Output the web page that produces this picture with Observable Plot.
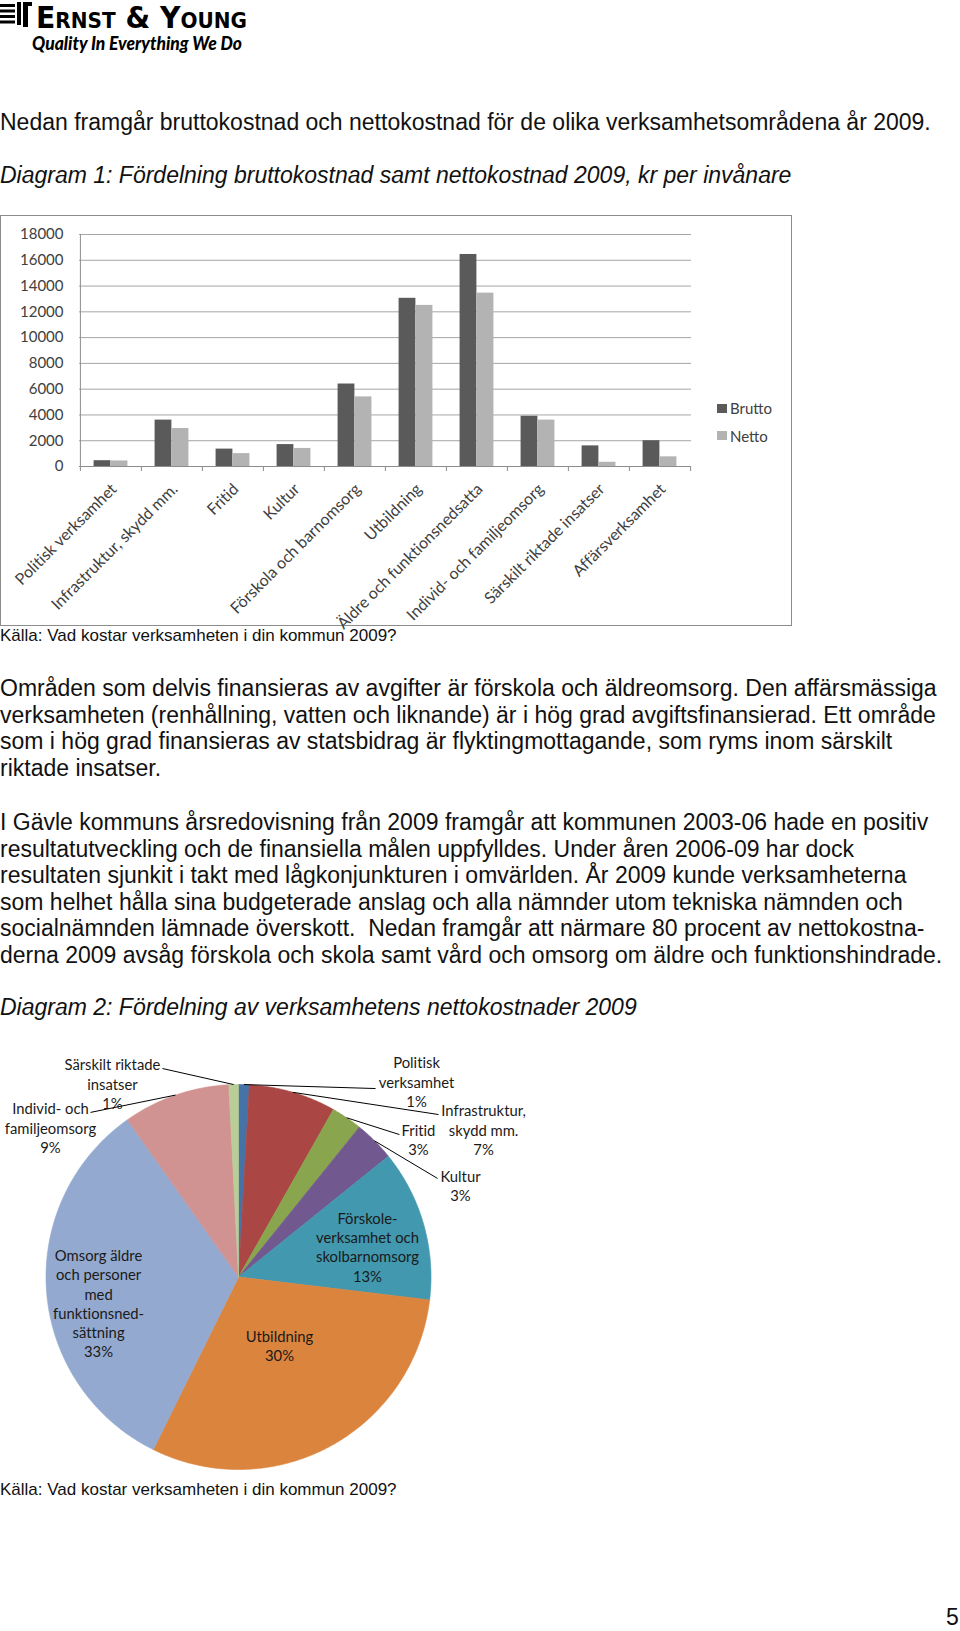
<!DOCTYPE html>
<html><head><meta charset="utf-8">
<script src="https://cdn.jsdelivr.net/npm/d3@7"></script>
<script src="https://cdn.jsdelivr.net/npm/@observablehq/plot@0.6"></script>
<style>
html,body{margin:0;padding:0;background:#fff;}
#page{position:relative;width:960px;height:1631px;overflow:hidden;font-family:"Liberation Sans",Arial,sans-serif;color:#111;}
.t{position:absolute;left:0;white-space:pre;font-size:23px;line-height:26.5px;}
.i{font-style:italic;}
.src{position:absolute;left:0;font-size:17px;line-height:20px;white-space:pre;}
#bar{position:absolute;left:0;top:215px;width:790px;height:409px;border:1px solid #8c8c8c;}
#bar svg{position:absolute;left:0;top:0;}
.leg{position:absolute;font-family:Lato,sans-serif;font-size:15px;color:#404040;line-height:18px;}
.sw{position:absolute;width:10px;height:9px;}
#pie{position:absolute;left:0;top:1040px;}
svg text{font-variant-ligatures:none;}
</style></head><body><div id="page">

<svg width="440" height="64" style="position:absolute;left:0;top:0">
  <rect x="0" y="4" width="15" height="3" fill="#000"/>
  <rect x="0" y="9.5" width="15" height="3" fill="#000"/>
  <rect x="0" y="15" width="15" height="3" fill="#000"/>
  <rect x="0" y="20.5" width="15" height="3" fill="#000"/>
  <rect x="17" y="2" width="4" height="23" fill="#000"/>
  <rect x="23" y="2" width="5" height="25" fill="#000"/>
  <rect x="28" y="2" width="4" height="4" fill="#000"/>
  <text x="36" y="28" textLength="211" lengthAdjust="spacingAndGlyphs" font-family="DejaVu Sans" font-weight="bold" font-size="31" style="font-variant:small-caps" fill="#000">Ernst &amp; Young</text>
  <text x="32" y="50" textLength="210" lengthAdjust="spacingAndGlyphs" font-family="Lato" font-weight="900" font-style="italic" font-size="18" fill="#000">Quality In Everything We Do</text>
</svg>

<div class="t" style="top:109px">Nedan framgår bruttokostnad och nettokostnad för de olika verksamhetsområdena år 2009.</div>
<div class="t i" style="top:162px">Diagram 1: Fördelning bruttokostnad samt nettokostnad 2009, kr per invånare</div>

<div id="bar">
  <div class="sw" style="left:716px;top:188px;background:#5a5a5a"></div>
  <div class="leg" style="left:729px;top:183px">Brutto</div>
  <div class="sw" style="left:716px;top:215px;background:#b3b3b3"></div>
  <div class="leg" style="left:729px;top:211px">Netto</div>
</div>

<div class="src" style="top:626px">Källa: Vad kostar verksamheten i din kommun 2009?</div>

<div class="t" style="top:675px">Områden som delvis finansieras av avgifter är förskola och äldreomsorg. Den affärsmässiga
verksamheten (renhållning, vatten och liknande) är i hög grad avgiftsfinansierad. Ett område
som i hög grad finansieras av statsbidrag är flyktingmottagande, som ryms inom särskilt
riktade insatser.</div>

<div class="t" style="top:809px">I Gävle kommuns årsredovisning från 2009 framgår att kommunen 2003-06 hade en positiv
resultatutveckling och de finansiella målen uppfylldes. Under åren 2006-09 har dock
resultaten sjunkit i takt med lågkonjunkturen i omvärlden. År 2009 kunde verksamheterna
som helhet hålla sina budgeterade anslag och alla nämnder utom tekniska nämnden och
socialnämnden lämnade överskott.  Nedan framgår att närmare 80 procent av nettokostna-
derna 2009 avsåg förskola och skola samt vård och omsorg om äldre och funktionshindrade.</div>

<div class="t i" style="top:994px">Diagram 2: Fördelning av verksamhetens nettokostnader 2009</div>

<div id="pie"></div>

<div class="src" style="top:1480px">Källa: Vad kostar verksamheten i din kommun 2009?</div>
<div class="t" style="top:1604px;left:946px">5</div>

</div>
<script>
// ---------- Diagram 1 data ----------
const categories = ["Politisk verksamhet","Infrastruktur, skydd mm.","Fritid","Kultur","Förskola och barnomsorg","Utbildning","Äldre och funktionsnedsatta","Individ- och familjeomsorg","Särskilt riktade insatser","Affärsverksamhet"];
const brutto = [450, 3600, 1350, 1700, 6400, 13050, 16450, 3900, 1600, 2000];
const netto  = [430, 2950, 1000, 1400, 5400, 12500, 13450, 3600, 330, 750];
const seriesNames = ["Brutto", "Netto"];
const seriesColors = ["#5a5a5a", "#b3b3b3"];
const yTicks = [0, 2000, 4000, 6000, 8000, 10000, 12000, 14000, 16000, 18000];

// ---------- Diagram 2 data ----------
const pieNames = ["Politisk\nverksamhet","Infrastruktur,\nskydd mm.","Fritid","Kultur","Förskole-\nverksamhet och\nskolbarnomsorg","Utbildning","Omsorg äldre\noch personer\nmed\nfunktionsned-\nsättning","Individ- och\nfamiljeomsorg","Särskilt riktade\ninsatser"];
const pieValues = [0.9, 7.3, 2.6, 3.4, 12.7, 30.4, 32.9, 9.0, 0.8];
const pieColors = ["#4572A7","#AA4643","#89A54E","#71588F","#4198AF","#DB843D","#93A9CF","#D19392","#B9CD96"];
// label layout (pie-radius units), and leader-line end points (null = label inside)
const labelPos = [[0.925,1.016],[1.273,0.766],[0.935,0.717],[1.153,0.478],[0.670,0.158],[0.213,-0.356],[-0.727,-0.135],[-0.977,0.777],[-0.655,1.005]];
const leaderEnd = [[0.712,0.979],[1.039,0.844],[0.836,0.740],[1.034,0.512],null,null,null,[-0.769,0.855],[-0.395,1.083]];

// ---------- Bar chart ----------
const rows = categories.flatMap((c, i) => [
  {category: c, series: seriesNames[0], value: brutto[i]},
  {category: c, series: seriesNames[1], value: netto[i]}
]);
const W = 790, H = 409, mL = 78, mR = 100, mT = 18, mB = 159;
const step = (W - mL - mR) / categories.length;
const barW = step * 0.278;
const outer = (step - 2 * barW) / 2;
const barPlot = Plot.plot({
  width: W, height: H, marginLeft: mL, marginRight: mR, marginTop: mT, marginBottom: mB,
  style: {fontFamily: "Lato, sans-serif", fontSize: "15px", color: "#404040", background: "transparent", overflow: "visible"},
  x: {type: "band", domain: categories, padding: 0, axis: null},
  y: {domain: [0, 18000], axis: null},
  color: {domain: seriesNames, range: seriesColors},
  marks: [
    Plot.ruleY(yTicks.filter(d => d > 0), {stroke: "#a6a6a6", strokeWidth: 1}),
    Plot.ruleX([categories[0]], {dx: -step / 2, stroke: "#8c8c8c"}),
    Plot.barY(rows.filter(d => d.series === seriesNames[0]), {x: "category", y: "value", fill: "series", insetLeft: outer, insetRight: outer + barW}),
    Plot.barY(rows.filter(d => d.series === seriesNames[1]), {x: "category", y: "value", fill: "series", insetLeft: outer + barW, insetRight: outer}),
    Plot.ruleY([0], {stroke: "#8c8c8c"}),
    Plot.axisY(yTicks, {label: null, tickSize: 0, tickPadding: 16, tickFormat: d => String(d), fontSize: 15, fill: "#404040"}),
    Plot.axisX(categories, {label: null, tickSize: 5, tickFormat: () => "", dx: -step / 2, stroke: "#8c8c8c"}),
    Plot.axisX([categories[categories.length - 1]], {label: null, tickSize: 5, tickFormat: () => "", dx: step / 2, stroke: "#8c8c8c"}),
    Plot.text(categories, {x: d => d, y: () => 0, text: d => d, rotate: -45, textAnchor: "end", dx: 3, dy: 20, fontSize: 16, fill: "#404040"})
  ]
});
document.getElementById("bar").appendChild(barPlot);

// ---------- Pie chart ----------
const cx = 238, cy = 236.5, r = 192.5;
const arcs = d3.pie().sort(null).value(d => d)(pieValues);
const poly = arcs.flatMap((a, i) => {
  const name = pieNames[i];
  const n = Math.max(2, Math.ceil((a.endAngle - a.startAngle) / (Math.PI / 360)));
  const pts = [{name, u: 0, v: 0}];
  for (let k = 0; k <= n; k++) {
    const t = a.startAngle + (a.endAngle - a.startAngle) * k / n;
    pts.push({name, u: Math.sin(t), v: Math.cos(t)});
  }
  pts.push({name, u: 0, v: 0});
  return pts;
});
const labels = arcs.map((a, i) => ({
  text: pieNames[i] + "\n" + Math.round(pieValues[i]) + "%",
  u: labelPos[i][0], v: labelPos[i][1]
}));
const leaders = arcs.map((a, i) => {
  if (!leaderEnd[i]) return null;
  const m = (a.startAngle + a.endAngle) / 2;
  return {u1: Math.sin(m), v1: Math.cos(m), u2: leaderEnd[i][0], v2: leaderEnd[i][1]};
}).filter(d => d);

const piePlot = Plot.plot({
  width: 600, height: 460, margin: 0,
  style: {fontFamily: "Lato, sans-serif", background: "transparent", overflow: "visible"},
  x: {domain: [-1, 1], range: [cx - r, cx + r], axis: null},
  y: {domain: [-1, 1], range: [cy + r, cy - r], axis: null},
  color: {domain: pieNames, range: pieColors},
  marks: [
    Plot.line(poly, {x: "u", y: "v", z: "name", fill: "name", stroke: "name", strokeWidth: 0.6, curve: "linear"}),
    Plot.link(leaders, {x1: "u1", y1: "v1", x2: "u2", y2: "v2", stroke: "#000", strokeWidth: 1}),
    Plot.text(labels, {x: "u", y: "v", text: "text", fontSize: 14.8, lineHeight: 1.3, fill: "#1a1a1a"})
  ]
});
document.getElementById("pie").appendChild(piePlot);
</script>
</body></html>
